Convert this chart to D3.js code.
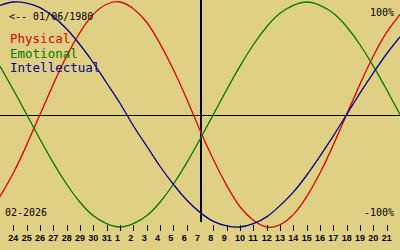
<!DOCTYPE html>
<html lang="en">
<head>
    <meta charset="UTF-8">
    <script src="https://d3js.org/d3.v7.min.js"></script>
    <title>Biorhythm</title>
    <style>
        body { margin: 0; background: #e0d083; }
        svg { display: block; }
    </style>
</head>
<body>
    <script>
        // day labels along the bottom (Jan 24 .. Feb 21)
        const tickLabels = [24, 25, 26, 27, 28, 29, 30, 31, 1, 2, 3, 4, 5, 6, 7, 8, 9, 10,
            11, 12, 13, 14, 15, 16, 17, 18, 19, 20, 21];
        const todayIndex = 15; // Feb 7

        // one value per day, Jan 23 .. Feb 22
        const physical = [-0.73, -0.52, -0.27, 0, 0.27, 0.52, 0.73, 0.89, 0.98, 1.00, 0.94,
            0.82, 0.63, 0.40, 0.14, -0.14, -0.40, -0.63, -0.82, -0.94, -1.00, -0.98, -0.89,
            -0.73, -0.52, -0.27, 0, 0.27, 0.52, 0.73, 0.89];
        const emotional = [0.43, 0.22, 0, -0.22, -0.43, -0.62, -0.78, -0.90, -0.97, -1.00,
            -0.97, -0.90, -0.78, -0.62, -0.43, -0.22, 0, 0.22, 0.43, 0.62, 0.78, 0.90, 0.97,
            1.00, 0.97, 0.90, 0.78, 0.62, 0.43, 0.22, 0];
        const intellectual = [0.97, 1.00, 0.99, 0.95, 0.87, 0.76, 0.62, 0.46, 0.28, 0.10,
            -0.10, -0.28, -0.46, -0.62, -0.76, -0.87, -0.95, -0.99, -1.00, -0.97, -0.91,
            -0.81, -0.69, -0.54, -0.37, -0.19, 0, 0.19, 0.37, 0.54, 0.69];

        const series = [
            { name: "Physical", values: physical, color: "#dd0000" },
            { name: "Emotional", values: emotional, color: "#007800" },
            { name: "Intellectual", values: intellectual, color: "#00008c" }
        ];

        const width = 400, height = 250;

        const svg = d3.select("body").append("svg")
            .attr("width", width)
            .attr("height", height);

        svg.append("rect")
            .attr("width", width).attr("height", height)
            .attr("fill", "#e0d083");

        const x = d3.scaleLinear().domain([0, 30]).range([0, width]);
        const y = d3.scaleLinear().domain([-1, 1]).range([227, 2]);

        // zero line
        svg.append("line")
            .attr("x1", 0).attr("x2", width)
            .attr("y1", Math.round(y(0)) + 0.5).attr("y2", Math.round(y(0)) + 0.5)
            .attr("stroke", "#000").attr("stroke-width", 1);

        // today marker
        svg.append("line")
            .attr("x1", x(todayIndex) + 1).attr("x2", x(todayIndex) + 1)
            .attr("y1", 0).attr("y2", 222)
            .attr("stroke", "#000").attr("stroke-width", 2);

        // curves
        const line = d3.line()
            .x((d, i) => x(i))
            .y(d => y(d))
            .curve(d3.curveNatural);

        svg.append("g")
            .selectAll("path")
            .data(series)
            .enter().append("path")
            .attr("d", d => line(d.values))
            .attr("fill", "none")
            .attr("stroke", d => d.color)
            .attr("stroke-width", 1.3);

        // day ticks
        const ticks = svg.append("g");
        ticks.selectAll("line")
            .data(tickLabels.map((t, i) => i + 1).filter(i => i !== todayIndex))
            .enter().append("line")
            .attr("x1", d => Math.round(x(d)) + 0.5)
            .attr("x2", d => Math.round(x(d)) + 0.5)
            .attr("y1", 225).attr("y2", 231)
            .attr("stroke", "#000");

        ticks.selectAll("text")
            .data(tickLabels)
            .enter().append("text")
            .attr("x", (d, i) => x(i + 1) - 5)
            .attr("y", 241)
            .attr("font-family", "Liberation Sans, sans-serif")
            .attr("font-weight", "bold")
            .attr("font-size", 9)
            .attr("fill", "#000")
            .text(d => d);

        // texts
        const mono = "DejaVu Sans Mono, monospace";
        svg.append("text")
            .attr("x", 9).attr("y", 20)
            .attr("font-family", mono).attr("font-size", 10)
            .text("<-- 01/06/1980");

        svg.append("g")
            .selectAll("text")
            .data(series)
            .enter().append("text")
            .attr("x", 10)
            .attr("y", (d, i) => 43 + i * 14.5)
            .attr("font-family", mono).attr("font-size", 12.5)
            .attr("fill", d => d.color)
            .text(d => d.name);

        svg.append("text")
            .attr("x", 394).attr("y", 16)
            .attr("text-anchor", "end")
            .attr("font-family", mono).attr("font-size", 10)
            .text("100%");

        svg.append("text")
            .attr("x", 394).attr("y", 216)
            .attr("text-anchor", "end")
            .attr("font-family", mono).attr("font-size", 10)
            .text("-100%");

        svg.append("text")
            .attr("x", 5).attr("y", 216)
            .attr("font-family", mono).attr("font-size", 10)
            .text("02-2026");
    </script>
</body>
</html>
